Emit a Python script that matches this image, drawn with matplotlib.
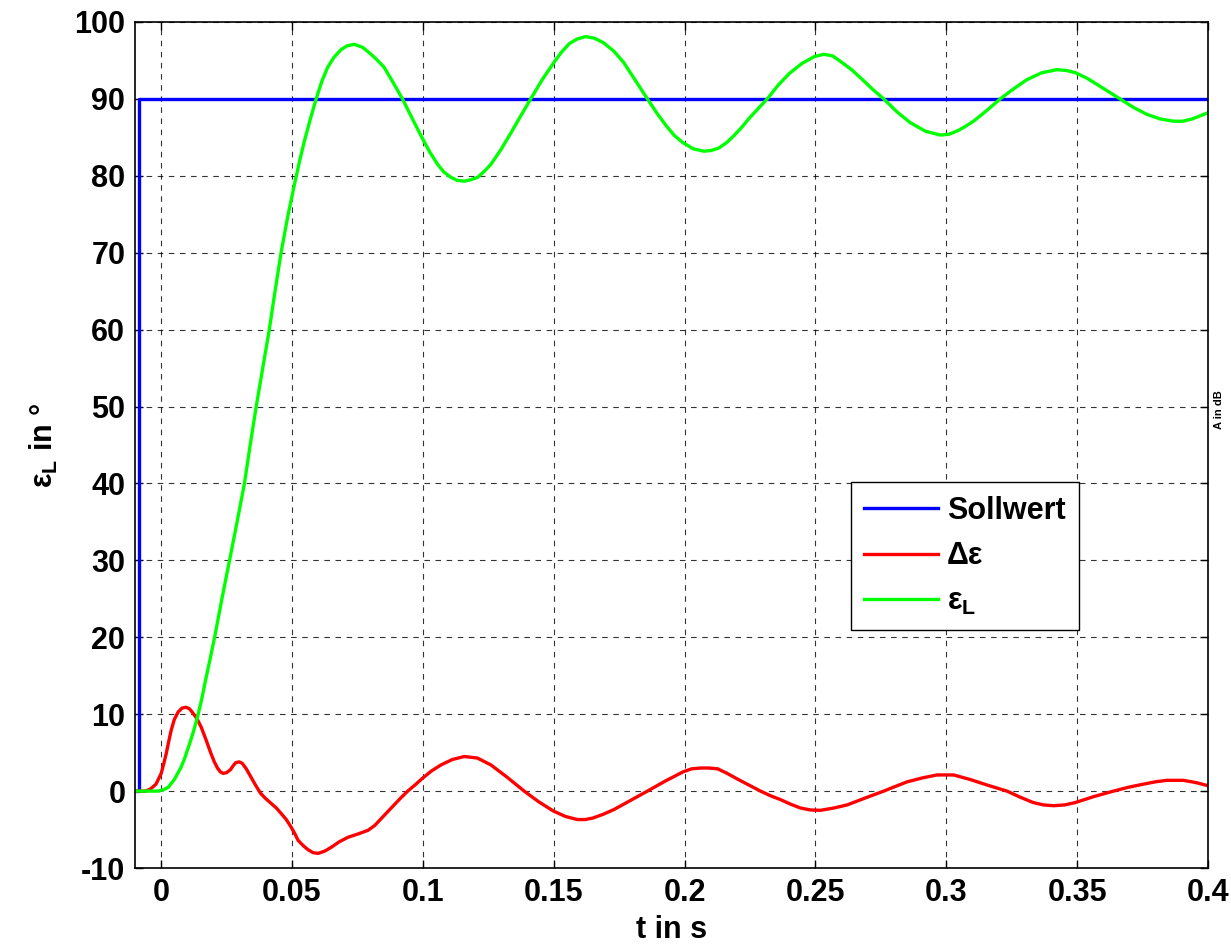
import numpy as np
import matplotlib.pyplot as plt

plt.rcParams['font.family'] = ['Liberation Sans', 'DejaVu Sans']
plt.rcParams['font.weight'] = 'bold'
plt.rcParams['mathtext.default'] = 'regular'
plt.rcParams['axes.unicode_minus'] = False

# Sollwert (step), (t, value)
soll_pts = [(-0.01, 0), (-0.0085, 0), (-0.0085, 90), (0.4, 90)]

# eps_L, (t, value)
eps_pts = [
    (-0.01, 0), (-0.001, 0), (0.001, 0.2), (0.0027, 0.5), (0.005, 1.5), (0.0076, 3.1),
    (0.009, 4.3), (0.0105, 5.8), (0.0122, 7.6), (0.014, 9.8), (0.0155, 12.0), (0.017, 14.5),
    (0.0187, 17.2), (0.0204, 20), (0.0232, 25), (0.0261, 30), (0.029, 35), (0.0318, 40),
    (0.034, 45), (0.0363, 50), (0.0388, 55), (0.0413, 60), (0.0435, 65), (0.0458, 70),
    (0.0484, 74.8), (0.051, 79), (0.0528, 81.8), (0.0547, 84.5), (0.057, 87.4), (0.0592, 90),
    (0.0614, 92.3), (0.0636, 94.1), (0.066, 95.4), (0.0687, 96.4), (0.071, 96.9), (0.0738, 97.1),
    (0.077, 96.7), (0.0802, 95.8), (0.0827, 95.0), (0.0852, 94.1), (0.0885, 92.2), (0.0922, 90),
    (0.096, 87.4), (0.0996, 85.0), (0.1026, 83.1), (0.1056, 81.5), (0.108, 80.5), (0.1107, 79.8),
    (0.1132, 79.4), (0.1158, 79.3), (0.1184, 79.5), (0.1209, 79.8), (0.1235, 80.6), (0.126, 81.5),
    (0.1298, 83.4), (0.1335, 85.5), (0.1374, 87.8), (0.1412, 90), (0.1456, 92.5), (0.15, 94.7),
    (0.153, 96.1), (0.156, 97.2), (0.159, 97.8), (0.1622, 98.1), (0.1655, 97.9), (0.169, 97.3),
    (0.173, 96.2), (0.1768, 94.7), (0.1812, 92.4), (0.1858, 90), (0.1895, 88.1), (0.193, 86.5),
    (0.1962, 85.2), (0.1994, 84.3), (0.2034, 83.5), (0.2074, 83.2), (0.2102, 83.3), (0.213, 83.6),
    (0.216, 84.3), (0.2188, 85.2), (0.2218, 86.3), (0.225, 87.6), (0.2283, 88.8), (0.2316, 90),
    (0.2358, 91.8), (0.24, 93.3), (0.2448, 94.6), (0.2496, 95.5), (0.2532, 95.8), (0.2565, 95.6),
    (0.2595, 94.9), (0.2638, 93.8), (0.268, 92.5), (0.272, 91.2), (0.2761, 90), (0.2812, 88.3),
    (0.2863, 86.9), (0.292, 85.8), (0.2977, 85.3), (0.301, 85.4), (0.304, 85.8), (0.3072, 86.4),
    (0.3104, 87.1), (0.3155, 88.5), (0.3206, 90), (0.3257, 91.3), (0.3308, 92.5), (0.3365, 93.4),
    (0.3422, 93.8), (0.3458, 93.7), (0.3494, 93.4), (0.3537, 92.7), (0.358, 91.8), (0.3622, 90.9),
    (0.3664, 90), (0.3715, 88.9), (0.3766, 88.0), (0.3817, 87.4), (0.3868, 87.1), (0.3904, 87.1),
    (0.394, 87.4), (0.397, 87.8), (0.4, 88.2),
]

# delta eps, (t, value)
d_pts = [
    (-0.01, 0), (-0.006, 0), (-0.004, 0.3), (-0.002, 0.9), (0, 2.3), (0.001, 3.6),
    (0.002, 5.0), (0.0029, 6.5), (0.0038, 7.9), (0.005, 9.3), (0.0065, 10.3), (0.008, 10.8),
    (0.0095, 10.9), (0.0108, 10.7), (0.012, 10.2), (0.0137, 9.4), (0.0153, 8.3), (0.0172, 6.6),
    (0.019, 4.9), (0.0203, 3.8), (0.0215, 3.0), (0.0226, 2.5), (0.0237, 2.3), (0.025, 2.4),
    (0.0265, 2.8), (0.0275, 3.3), (0.0285, 3.7), (0.0298, 3.8), (0.031, 3.6), (0.0325, 2.9),
    (0.034, 2.0), (0.036, 0.8), (0.038, -0.3), (0.04, -1.0), (0.042, -1.6), (0.044, -2.2),
    (0.0458, -2.9), (0.0478, -3.7), (0.0495, -4.6), (0.051, -5.5), (0.0523, -6.4), (0.054, -7.0),
    (0.056, -7.6), (0.058, -8.0), (0.06, -8.1), (0.0625, -7.8), (0.065, -7.3), (0.068, -6.6),
    (0.0714, -6.0), (0.075, -5.6), (0.079, -5.1), (0.0815, -4.5), (0.084, -3.6), (0.0865, -2.7),
    (0.089, -1.8), (0.0915, -0.9), (0.0942, 0), (0.097, 0.8), (0.0996, 1.6), (0.1032, 2.6),
    (0.1069, 3.4), (0.1112, 4.1), (0.1158, 4.5), (0.1208, 4.3), (0.126, 3.4), (0.1322, 1.8),
    (0.1387, 0), (0.1443, -1.4), (0.1499, -2.6), (0.1545, -3.3), (0.159, -3.7), (0.162, -3.7),
    (0.165, -3.5), (0.169, -3.0), (0.173, -2.4), (0.1794, -1.2), (0.1858, 0), (0.1926, 1.3),
    (0.1994, 2.5), (0.2027, 2.9), (0.2061, 3.0), (0.2094, 3.0), (0.2126, 2.9), (0.2163, 2.3),
    (0.22, 1.6), (0.2245, 0.8), (0.229, 0), (0.2328, -0.6), (0.2366, -1.1), (0.2405, -1.7),
    (0.2443, -2.2), (0.248, -2.45), (0.2519, -2.5), (0.257, -2.2), (0.2621, -1.8), (0.269, -0.9),
    (0.2761, 0), (0.2805, 0.6), (0.285, 1.2), (0.2907, 1.7), (0.2964, 2.1), (0.3028, 2.1),
    (0.3092, 1.5), (0.3155, 0.8), (0.3232, 0), (0.3283, -0.8), (0.3333, -1.5), (0.3372, -1.8),
    (0.341, -1.9), (0.3452, -1.8), (0.3492, -1.5), (0.3565, -0.7), (0.3639, 0), (0.3696, 0.5),
    (0.3753, 0.9), (0.3798, 1.2), (0.3842, 1.4), (0.3906, 1.4), (0.3955, 1.1), (0.4, 0.7),
]

xticks = [0, 0.05, 0.1, 0.15, 0.2, 0.25, 0.3, 0.35, 0.4]
xtick_labels = ['0', '0.05', '0.1', '0.15', '0.2', '0.25', '0.3', '0.35', '0.4']
yticks = list(range(-10, 101, 10))

t_soll, soll = zip(*soll_pts)
t_eps, eps_L = zip(*eps_pts)
t_d, d_eps = zip(*d_pts)

fig = plt.figure(figsize=(12.31, 9.44), dpi=100)
ax = fig.add_axes([0.1097, 0.0805, 0.8716, 0.8962])

ax.plot(t_soll, soll, color=(0, 0, 1), lw=2.4, label='Sollwert')
ax.plot(t_d, d_eps, color=(1, 0, 0), lw=2.4, label='Δε')
ax.plot(t_eps, eps_L, color=(0, 1, 0), lw=2.4, label='ε$_{L}$')

ax.set_xlim(-0.01, 0.4)
ax.set_ylim(-10, 100)
ax.set_xticks(xticks)
ax.set_xticklabels(xtick_labels)
ax.set_yticks(yticks)
ax.tick_params(direction='in', length=6, width=1, top=True, right=True,
               labelsize=22, pad=7)
for s in ax.spines.values():
    s.set_linewidth(1.2)
ax.grid(True, color='k', ls=(0, (5, 5)), lw=0.8, alpha=0.8)

ax.set_xlabel('t in s', fontsize=22, fontweight='bold', labelpad=5)
ax.set_ylabel('ε$_{L}$ in °', fontsize=22, fontweight='bold', labelpad=10)

fig.text(1219 / 1231, 1 - 410 / 944, 'A in dB', rotation=90, fontsize=8,
         fontweight='bold', ha='center', va='center')

leg = ax.legend(loc='upper left', bbox_to_anchor=(0.667, 0.456), borderaxespad=0,
                fontsize=22, handlelength=2.4, handletextpad=0.3, labelspacing=0.5,
                fancybox=False, framealpha=1, edgecolor='k', borderpad=0.45)
leg.get_frame().set_linewidth(1)

plt.savefig('out.png', dpi=100)
